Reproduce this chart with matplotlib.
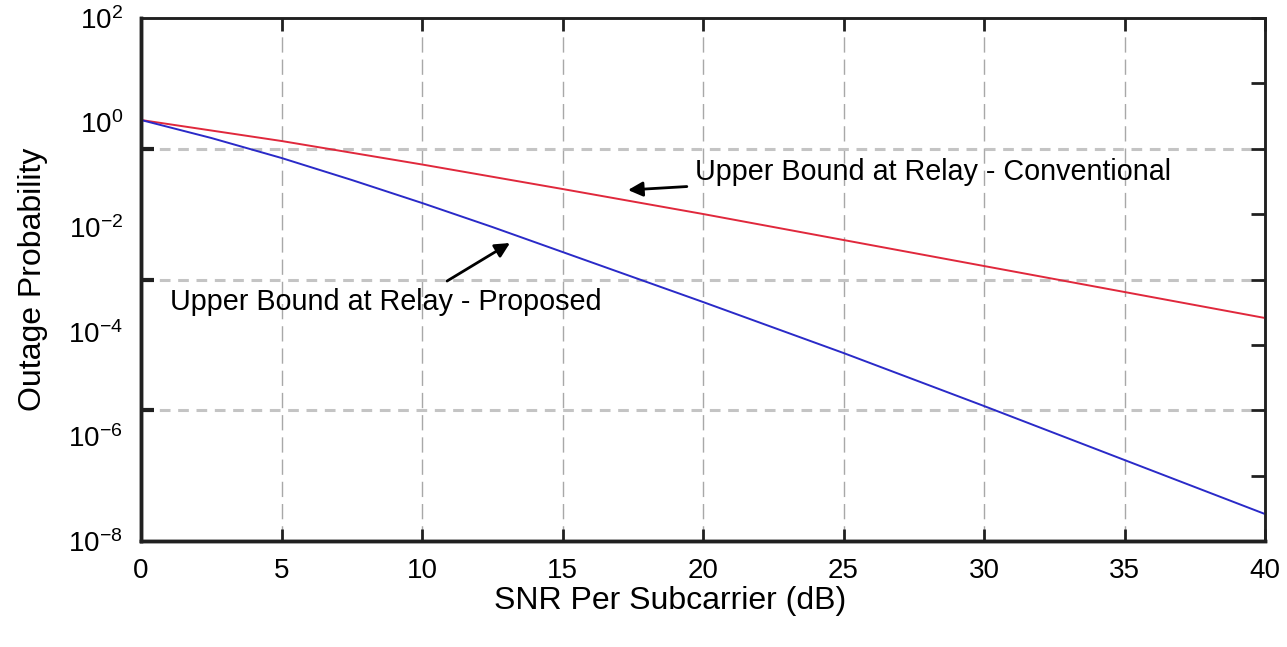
import numpy as np
import matplotlib
matplotlib.use("Agg")
import matplotlib.pyplot as plt
from matplotlib.ticker import FixedLocator, NullFormatter

plt.rcParams['font.family'] = ['Liberation Sans', 'DejaVu Sans']
plt.rcParams['mathtext.fontset'] = 'custom'
plt.rcParams['mathtext.rm'] = 'Liberation Sans'
plt.rcParams['mathtext.it'] = 'Liberation Sans'

# data
snr_conv = [0, 5, 10, 15, 20, 25, 30, 35, 40]
p_conventional = [1.121, 0.4446, 0.1581, 0.05375, 0.01788, 0.005691,
                  0.001811, 0.0005768, 0.0001836]
snr_prop = [0, 2.5, 5, 7.5, 10, 12.5, 15, 17.5, 20, 22.5, 25, 27.5, 30,
            32.5, 35, 37.5, 40]
p_proposed = [1.121, 0.5076, 0.2104, 0.0799, 0.02902, 0.01009, 0.003356,
              0.001116, 0.0003714, 0.0001208, 3.932e-5, 1.225e-5, 3.813e-6,
              1.161e-6, 3.538e-7, 1.078e-7, 3.283e-8]

x_ticks = [0, 5, 10, 15, 20, 25, 30, 35, 40]
y_label_exp = [2, 0, -2, -4, -6, -8]
left_tick_exp = [2, -0.5, -3, -5.5, -8]
right_tick_exp = [2, 0.75, -0.5, -1.75, -3, -4.25, -5.5, -6.75, -8]
hgrid_exp = [-0.5, -3, -5.5]

fig = plt.figure(figsize=(12.87, 6.47), dpi=100)
ax = fig.add_axes([0.1096, 0.1638, 0.9829 - 0.1096, 0.9722 - 0.1638])

ax.set_yscale('log')
ax.set_xlim(0, 40)
ax.set_ylim(1e-8, 1e2)

# grid lines
for xv in x_ticks[1:-1]:
    ax.axvline(xv, color='#a8a8a8', lw=1.0, dashes=(11, 5), zorder=1)
for e in hgrid_exp:
    ax.axhline(10.0 ** e, color='#c4c4c4', lw=2.2, dashes=(3.5, 2.5), zorder=1)

ax.plot(snr_conv, p_conventional, color='#e0283c', lw=1.4, zorder=3)
ax.plot(snr_prop, p_proposed, color='#2a2ac8', lw=1.4, zorder=3)

# x ticks
ax.set_xticks(x_ticks)
ax.set_xticklabels([str(v) for v in x_ticks])
ax.tick_params(axis='x', which='major', direction='in', length=9, width=2,
               top=True, bottom=True, labelsize=20, pad=12, color='#202020')
ax.tick_params(axis='x', which='minor', length=0)

# y labels without tick marks, separate thick ticks on the left
ax.yaxis.set_major_locator(FixedLocator([10.0 ** e for e in y_label_exp]))
ax.set_yticklabels([r'$10^{%d}$' % e for e in y_label_exp])
ax.tick_params(axis='y', which='major', length=0, labelsize=20, pad=13)
ax.yaxis.set_minor_locator(FixedLocator([10.0 ** e for e in left_tick_exp]))
ax.yaxis.set_minor_formatter(NullFormatter())
ax.tick_params(axis='y', which='minor', direction='in', length=9, width=3,
               left=True, right=False, color='#202020')

# right side ticks
ax2 = ax.twinx()
ax2.set_yscale('log')
ax2.set_ylim(1e-8, 1e2)
ax2.yaxis.set_major_locator(FixedLocator([10.0 ** e for e in right_tick_exp]))
ax2.yaxis.set_major_formatter(NullFormatter())
ax2.yaxis.set_minor_locator(FixedLocator([]))
ax2.tick_params(axis='y', direction='in', length=10, width=2, color='#202020')

for a in (ax, ax2):
    for s in a.spines.values():
        s.set_color('#202020')
    a.spines['left'].set_linewidth(2.5)
    a.spines['bottom'].set_linewidth(2.5)
    a.spines['top'].set_linewidth(1.8)
    a.spines['right'].set_linewidth(1.8)

ax.set_ylabel('Outage Probability', fontsize=23)
ax.yaxis.set_label_coords(-0.083, 0.5)
ax.set_xlabel('SNR Per Subcarrier (dB)', fontsize=23)
ax.xaxis.set_label_coords(0.4707, -0.086)

ax.annotate('Upper Bound at Relay - Conventional', xy=(17.33, 0.0514),
            xytext=(19.72, 0.1135), fontsize=20.7, ha='left', va='center',
            arrowprops=dict(arrowstyle='-|>', color='black', lw=2,
                            mutation_scale=22, shrinkA=4, shrinkB=0),
            zorder=5)
ax.annotate('', xy=(13.13, 4.99e-3), xytext=(10.89, 9.35e-4),
            arrowprops=dict(arrowstyle='-|>', color='black', lw=2,
                            mutation_scale=22, shrinkA=0, shrinkB=0),
            zorder=5)
ax.text(1.03, 3.7e-4, 'Upper Bound at Relay - Proposed', fontsize=20.7,
        ha='left', va='center', zorder=5)

fig.savefig('out.png', dpi=100)
